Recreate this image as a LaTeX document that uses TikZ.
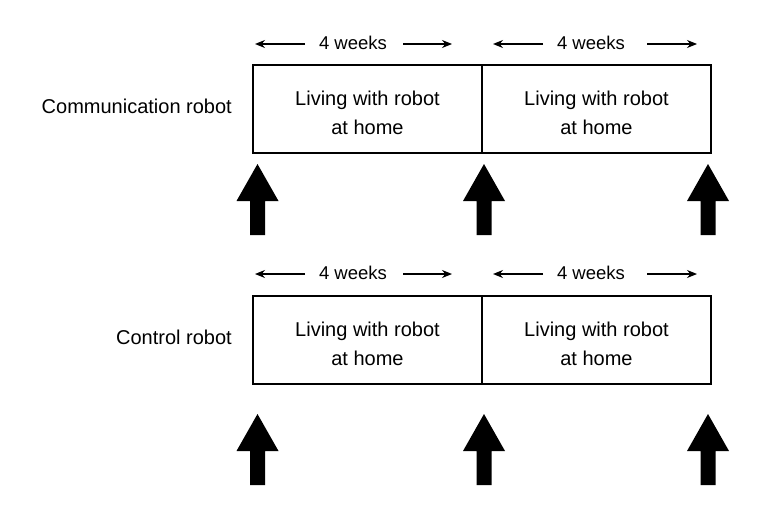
\documentclass[tikz,border=0pt]{standalone}
\usepackage{fontspec}
\setmainfont{Liberation Sans}
\usetikzlibrary{arrows.meta}
\begin{document}
\begin{tikzpicture}[x=1pt,y=-1pt,
  box/.style={draw,line width=1.3pt,minimum width=229pt,minimum height=88pt,inner sep=0pt,align=center,font=\fontsize{20}{28.3}\selectfont},
  lbl/.style={anchor=base east,inner sep=0pt,font=\fontsize{20}{24}\selectfont},
  wk/.style={anchor=base,inner sep=0pt,font=\fontsize{18.5}{22}\selectfont},
  warrow/.style={line width=1.3pt,-{Stealth[length=10pt,width=8pt]}},
  bigarrow/.pic={\fill (0,0) -- (21,37) -- (7.5,37) -- (7.5,71) -- (-7.5,71) -- (-7.5,37) -- (-21,37) -- cycle;}
]
\fill[white] (0,0) rectangle (771,514);
\useasboundingbox (0,0) rectangle (771,514);
\newcommand{\boxtext}{\rule{0pt}{22pt}Living with robot\\at home}

% ---------- Row 1: Communication robot ----------
\node[lbl] (l1) at (232,113) {Communication robot};
\node[box] (a1) at (367.5,109) {\boxtext};
\node[box] (a2) at (596.5,109) {\boxtext};

\node[wk] (w1) at (353,49.5) {4 weeks};
\node[wk] (w2) at (591,49.5) {4 weeks};
\coordinate (w1l) at (255,44); \coordinate (w1a) at (305,44);
\coordinate (w1b) at (403,44); \coordinate (w1r) at (452,44);
\coordinate (w2l) at (493,44); \coordinate (w2a) at (543,44);
\coordinate (w2b) at (647,44); \coordinate (w2r) at (697,44);
\draw[warrow] (w1a) -- (w1l);
\draw[warrow] (w1b) -- (w1r);
\draw[warrow] (w2a) -- (w2l);
\draw[warrow] (w2b) -- (w2r);

\pic at (257.5,164) {bigarrow};
\pic at (484,164) {bigarrow};
\pic at (708,164) {bigarrow};

% ---------- Row 2: Control robot ----------
\node[lbl] (l2) at (232,344) {Control robot};
\node[box] (b1) at (367.5,340) {\boxtext};
\node[box] (b2) at (596.5,340) {\boxtext};

\node[wk] (v1) at (353,279.5) {4 weeks};
\node[wk] (v2) at (591,279.5) {4 weeks};
\coordinate (v1l) at (255,274); \coordinate (v1a) at (305,274);
\coordinate (v1b) at (403,274); \coordinate (v1r) at (452,274);
\coordinate (v2l) at (493,274); \coordinate (v2a) at (543,274);
\coordinate (v2b) at (647,274); \coordinate (v2r) at (697,274);
\draw[warrow] (v1a) -- (v1l);
\draw[warrow] (v1b) -- (v1r);
\draw[warrow] (v2a) -- (v2l);
\draw[warrow] (v2b) -- (v2r);

\pic at (257.5,414) {bigarrow};
\pic at (484,414) {bigarrow};
\pic at (708,414) {bigarrow};
\end{tikzpicture}
\end{document}
